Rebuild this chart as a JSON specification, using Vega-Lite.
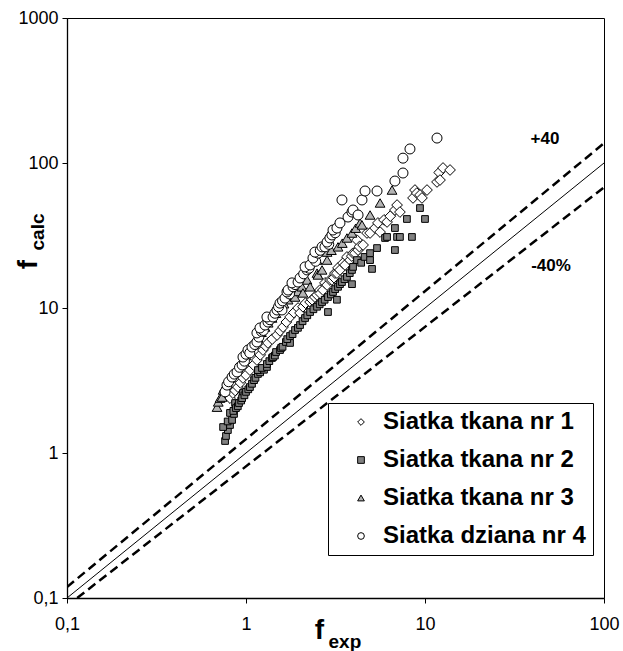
{
  "$schema": "https://vega.github.io/schema/vega-lite/v6.json",
  "width": 537,
  "height": 580,
  "autosize": {"type": "none"},
  "padding": {"left": 67, "top": 18, "right": 19, "bottom": 53},
  "config": {
    "font": "Liberation Sans",
    "view": {"stroke": "#000", "strokeWidth": 1},
    "axis": {
      "grid": false,
      "domainColor": "#000",
      "domainWidth": 1.3,
      "tickColor": "#000",
      "labelColor": "#000",
      "titleColor": "#000",
      "labelFont": "Liberation Sans",
      "titleFont": "Liberation Sans",
      "labelFontSize": 18
    }
  },
  "datasets": {
    "ref": [
      {"line": "1:1", "x": 0.1, "y": 0.1},
      {"line": "1:1", "x": 100, "y": 100},
      {"line": "+40", "x": 0.1, "y": 0.119},
      {"line": "+40", "x": 100, "y": 137},
      {"line": "-40", "x": 0.114, "y": 0.1},
      {"line": "-40", "x": 100, "y": 68}
    ],
    "pts": [
      {"s": "Siatka tkana nr 1", "x": 0.783, "y": 2.59},
      {"s": "Siatka tkana nr 1", "x": 0.80, "y": 2.5},
      {"s": "Siatka tkana nr 1", "x": 0.814, "y": 2.39},
      {"s": "Siatka tkana nr 1", "x": 0.845, "y": 2.59},
      {"s": "Siatka tkana nr 1", "x": 0.87, "y": 2.7},
      {"s": "Siatka tkana nr 1", "x": 0.901, "y": 2.85},
      {"s": "Siatka tkana nr 1", "x": 0.93, "y": 3.05},
      {"s": "Siatka tkana nr 1", "x": 0.962, "y": 3.29},
      {"s": "Siatka tkana nr 1", "x": 1.0, "y": 3.45},
      {"s": "Siatka tkana nr 1", "x": 1.052, "y": 3.73},
      {"s": "Siatka tkana nr 1", "x": 1.1, "y": 4.05},
      {"s": "Siatka tkana nr 1", "x": 1.151, "y": 4.38},
      {"s": "Siatka tkana nr 1", "x": 1.2, "y": 4.75},
      {"s": "Siatka tkana nr 1", "x": 1.244, "y": 5.13},
      {"s": "Siatka tkana nr 1", "x": 1.29, "y": 5.45},
      {"s": "Siatka tkana nr 1", "x": 1.327, "y": 5.74},
      {"s": "Siatka tkana nr 1", "x": 1.4, "y": 6.1},
      {"s": "Siatka tkana nr 1", "x": 1.49, "y": 6.51},
      {"s": "Siatka tkana nr 1", "x": 1.55, "y": 6.95},
      {"s": "Siatka tkana nr 1", "x": 1.61, "y": 7.39},
      {"s": "Siatka tkana nr 1", "x": 1.68, "y": 8.0},
      {"s": "Siatka tkana nr 1", "x": 1.762, "y": 8.67},
      {"s": "Siatka tkana nr 1", "x": 1.85, "y": 9.3},
      {"s": "Siatka tkana nr 1", "x": 1.954, "y": 10.0},
      {"s": "Siatka tkana nr 1", "x": 2.004, "y": 9.24},
      {"s": "Siatka tkana nr 1", "x": 2.08, "y": 10.2},
      {"s": "Siatka tkana nr 1", "x": 2.15, "y": 10.8},
      {"s": "Siatka tkana nr 1", "x": 2.28, "y": 11.0},
      {"s": "Siatka tkana nr 1", "x": 2.339, "y": 11.4},
      {"s": "Siatka tkana nr 1", "x": 2.427, "y": 11.9},
      {"s": "Siatka tkana nr 1", "x": 2.494, "y": 12.3},
      {"s": "Siatka tkana nr 1", "x": 2.588, "y": 13.3},
      {"s": "Siatka tkana nr 1", "x": 2.6, "y": 12.6},
      {"s": "Siatka tkana nr 1", "x": 2.692, "y": 13.3},
      {"s": "Siatka tkana nr 1", "x": 2.761, "y": 14.9},
      {"s": "Siatka tkana nr 1", "x": 2.838, "y": 14.4},
      {"s": "Siatka tkana nr 1", "x": 2.944, "y": 15.6},
      {"s": "Siatka tkana nr 1", "x": 3.02, "y": 15.6},
      {"s": "Siatka tkana nr 1", "x": 3.1, "y": 16.2},
      {"s": "Siatka tkana nr 1", "x": 3.141, "y": 17.4},
      {"s": "Siatka tkana nr 1", "x": 3.221, "y": 17.4},
      {"s": "Siatka tkana nr 1", "x": 3.266, "y": 18.9},
      {"s": "Siatka tkana nr 1", "x": 3.35, "y": 18.3},
      {"s": "Siatka tkana nr 1", "x": 3.483, "y": 20.4},
      {"s": "Siatka tkana nr 1", "x": 3.573, "y": 19.8},
      {"s": "Siatka tkana nr 1", "x": 3.664, "y": 22.5},
      {"s": "Siatka tkana nr 1", "x": 3.811, "y": 21.4},
      {"s": "Siatka tkana nr 1", "x": 3.9, "y": 22.8},
      {"s": "Siatka tkana nr 1", "x": 3.963, "y": 23.9},
      {"s": "Siatka tkana nr 1", "x": 4.064, "y": 23.9},
      {"s": "Siatka tkana nr 1", "x": 4.169, "y": 29.4},
      {"s": "Siatka tkana nr 1", "x": 4.227, "y": 25.1},
      {"s": "Siatka tkana nr 1", "x": 4.3, "y": 26.5},
      {"s": "Siatka tkana nr 1", "x": 4.508, "y": 27.2},
      {"s": "Siatka tkana nr 1", "x": 4.742, "y": 32.9},
      {"s": "Siatka tkana nr 1", "x": 4.932, "y": 32.9},
      {"s": "Siatka tkana nr 1", "x": 5.26, "y": 35.6},
      {"s": "Siatka tkana nr 1", "x": 5.458, "y": 38.6},
      {"s": "Siatka tkana nr 1", "x": 5.611, "y": 33.4},
      {"s": "Siatka tkana nr 1", "x": 5.9, "y": 40.5},
      {"s": "Siatka tkana nr 1", "x": 6.138, "y": 39.2},
      {"s": "Siatka tkana nr 1", "x": 6.4, "y": 43.0},
      {"s": "Siatka tkana nr 1", "x": 6.792, "y": 47.4},
      {"s": "Siatka tkana nr 1", "x": 6.982, "y": 51.3},
      {"s": "Siatka tkana nr 1", "x": 7.244, "y": 45.9},
      {"s": "Siatka tkana nr 1", "x": 8.57, "y": 57.4},
      {"s": "Siatka tkana nr 1", "x": 8.79, "y": 65.1},
      {"s": "Siatka tkana nr 1", "x": 9.0, "y": 62.0},
      {"s": "Siatka tkana nr 1", "x": 9.376, "y": 60.2},
      {"s": "Siatka tkana nr 1", "x": 9.616, "y": 57.4},
      {"s": "Siatka tkana nr 1", "x": 10.26, "y": 65.1},
      {"s": "Siatka tkana nr 1", "x": 11.67, "y": 74.0},
      {"s": "Siatka tkana nr 1", "x": 12.0, "y": 86.0},
      {"s": "Siatka tkana nr 1", "x": 12.13, "y": 76.3},
      {"s": "Siatka tkana nr 1", "x": 12.61, "y": 92.4},
      {"s": "Siatka tkana nr 1", "x": 13.8, "y": 89.5},
      {"s": "Siatka tkana nr 2", "x": 0.764, "y": 1.21},
      {"s": "Siatka tkana nr 2", "x": 0.773, "y": 1.31},
      {"s": "Siatka tkana nr 2", "x": 0.792, "y": 1.44},
      {"s": "Siatka tkana nr 2", "x": 0.745, "y": 1.51},
      {"s": "Siatka tkana nr 2", "x": 0.814, "y": 1.56},
      {"s": "Siatka tkana nr 2", "x": 0.79, "y": 1.65},
      {"s": "Siatka tkana nr 2", "x": 0.836, "y": 1.69},
      {"s": "Siatka tkana nr 2", "x": 0.814, "y": 1.89},
      {"s": "Siatka tkana nr 2", "x": 0.857, "y": 1.86},
      {"s": "Siatka tkana nr 2", "x": 0.85, "y": 1.95},
      {"s": "Siatka tkana nr 2", "x": 0.869, "y": 2.21},
      {"s": "Siatka tkana nr 2", "x": 0.879, "y": 2.04},
      {"s": "Siatka tkana nr 2", "x": 0.9, "y": 2.1},
      {"s": "Siatka tkana nr 2", "x": 0.914, "y": 2.21},
      {"s": "Siatka tkana nr 2", "x": 0.94, "y": 2.3},
      {"s": "Siatka tkana nr 2", "x": 0.962, "y": 2.59},
      {"s": "Siatka tkana nr 2", "x": 0.951, "y": 2.39},
      {"s": "Siatka tkana nr 2", "x": 0.98, "y": 2.5},
      {"s": "Siatka tkana nr 2", "x": 1.0, "y": 2.64},
      {"s": "Siatka tkana nr 2", "x": 1.03, "y": 2.75},
      {"s": "Siatka tkana nr 2", "x": 1.052, "y": 2.85},
      {"s": "Siatka tkana nr 2", "x": 1.08, "y": 3.0},
      {"s": "Siatka tkana nr 2", "x": 1.109, "y": 3.18},
      {"s": "Siatka tkana nr 2", "x": 1.13, "y": 3.3},
      {"s": "Siatka tkana nr 2", "x": 1.166, "y": 3.51},
      {"s": "Siatka tkana nr 2", "x": 1.2, "y": 3.6},
      {"s": "Siatka tkana nr 2", "x": 1.166, "y": 3.73},
      {"s": "Siatka tkana nr 2", "x": 1.26, "y": 3.75},
      {"s": "Siatka tkana nr 2", "x": 1.228, "y": 3.86},
      {"s": "Siatka tkana nr 2", "x": 1.309, "y": 3.92},
      {"s": "Siatka tkana nr 2", "x": 1.309, "y": 4.11},
      {"s": "Siatka tkana nr 2", "x": 1.35, "y": 4.3},
      {"s": "Siatka tkana nr 2", "x": 1.397, "y": 4.52},
      {"s": "Siatka tkana nr 2", "x": 1.416, "y": 4.59},
      {"s": "Siatka tkana nr 2", "x": 1.45, "y": 4.7},
      {"s": "Siatka tkana nr 2", "x": 1.472, "y": 4.97},
      {"s": "Siatka tkana nr 2", "x": 1.549, "y": 5.13},
      {"s": "Siatka tkana nr 2", "x": 1.57, "y": 5.30},
      {"s": "Siatka tkana nr 2", "x": 1.6, "y": 5.4},
      {"s": "Siatka tkana nr 2", "x": 1.671, "y": 5.83},
      {"s": "Siatka tkana nr 2", "x": 1.762, "y": 5.74},
      {"s": "Siatka tkana nr 2", "x": 1.7, "y": 6.1},
      {"s": "Siatka tkana nr 2", "x": 1.762, "y": 6.41},
      {"s": "Siatka tkana nr 2", "x": 1.82, "y": 6.6},
      {"s": "Siatka tkana nr 2", "x": 1.879, "y": 7.05},
      {"s": "Siatka tkana nr 2", "x": 1.95, "y": 7.3},
      {"s": "Siatka tkana nr 2", "x": 2.004, "y": 7.63},
      {"s": "Siatka tkana nr 2", "x": 2.07, "y": 8.1},
      {"s": "Siatka tkana nr 2", "x": 2.138, "y": 8.53},
      {"s": "Siatka tkana nr 2", "x": 2.2, "y": 8.9},
      {"s": "Siatka tkana nr 2", "x": 2.28, "y": 9.38},
      {"s": "Siatka tkana nr 2", "x": 2.38, "y": 9.8},
      {"s": "Siatka tkana nr 2", "x": 2.494, "y": 10.2},
      {"s": "Siatka tkana nr 2", "x": 2.58, "y": 10.6},
      {"s": "Siatka tkana nr 2", "x": 2.66, "y": 11.0},
      {"s": "Siatka tkana nr 2", "x": 2.75, "y": 11.4},
      {"s": "Siatka tkana nr 2", "x": 2.871, "y": 11.9},
      {"s": "Siatka tkana nr 2", "x": 2.871, "y": 9.38},
      {"s": "Siatka tkana nr 2", "x": 2.98, "y": 12.4},
      {"s": "Siatka tkana nr 2", "x": 3.062, "y": 12.9},
      {"s": "Siatka tkana nr 2", "x": 3.15, "y": 13.5},
      {"s": "Siatka tkana nr 2", "x": 3.221, "y": 11.4},
      {"s": "Siatka tkana nr 2", "x": 3.266, "y": 14.0},
      {"s": "Siatka tkana nr 2", "x": 3.35, "y": 14.6},
      {"s": "Siatka tkana nr 2", "x": 3.436, "y": 15.1},
      {"s": "Siatka tkana nr 2", "x": 3.55, "y": 15.8},
      {"s": "Siatka tkana nr 2", "x": 3.664, "y": 16.4},
      {"s": "Siatka tkana nr 2", "x": 3.8, "y": 17.4},
      {"s": "Siatka tkana nr 2", "x": 3.909, "y": 18.3},
      {"s": "Siatka tkana nr 2", "x": 3.909, "y": 14.6},
      {"s": "Siatka tkana nr 2", "x": 3.963, "y": 19.2},
      {"s": "Siatka tkana nr 2", "x": 4.169, "y": 21.4},
      {"s": "Siatka tkana nr 2", "x": 4.4, "y": 20.5},
      {"s": "Siatka tkana nr 2", "x": 4.6, "y": 22.5},
      {"s": "Siatka tkana nr 2", "x": 4.932, "y": 23.9},
      {"s": "Siatka tkana nr 2", "x": 4.932, "y": 21.4},
      {"s": "Siatka tkana nr 2", "x": 5.058, "y": 18.6},
      {"s": "Siatka tkana nr 2", "x": 5.395, "y": 25.9},
      {"s": "Siatka tkana nr 2", "x": 5.984, "y": 30.4},
      {"s": "Siatka tkana nr 2", "x": 6.138, "y": 30.9},
      {"s": "Siatka tkana nr 2", "x": 6.792, "y": 25.1},
      {"s": "Siatka tkana nr 2", "x": 6.792, "y": 35.6},
      {"s": "Siatka tkana nr 2", "x": 6.982, "y": 30.9},
      {"s": "Siatka tkana nr 2", "x": 7.244, "y": 30.9},
      {"s": "Siatka tkana nr 2", "x": 8.453, "y": 30.9},
      {"s": "Siatka tkana nr 2", "x": 7.925, "y": 41.1},
      {"s": "Siatka tkana nr 2", "x": 10.0, "y": 41.1},
      {"s": "Siatka tkana nr 2", "x": 9.376, "y": 48.9},
      {"s": "Siatka tkana nr 3", "x": 0.689, "y": 2.07},
      {"s": "Siatka tkana nr 3", "x": 0.70, "y": 2.25},
      {"s": "Siatka tkana nr 3", "x": 0.716, "y": 2.39},
      {"s": "Siatka tkana nr 3", "x": 0.735, "y": 2.43},
      {"s": "Siatka tkana nr 3", "x": 0.745, "y": 2.72},
      {"s": "Siatka tkana nr 3", "x": 0.76, "y": 2.85},
      {"s": "Siatka tkana nr 3", "x": 0.783, "y": 3.04},
      {"s": "Siatka tkana nr 3", "x": 0.82, "y": 3.3},
      {"s": "Siatka tkana nr 3", "x": 0.869, "y": 3.62},
      {"s": "Siatka tkana nr 3", "x": 0.9, "y": 3.9},
      {"s": "Siatka tkana nr 3", "x": 0.951, "y": 4.24},
      {"s": "Siatka tkana nr 3", "x": 1.0, "y": 4.7},
      {"s": "Siatka tkana nr 3", "x": 1.052, "y": 5.13},
      {"s": "Siatka tkana nr 3", "x": 1.1, "y": 5.6},
      {"s": "Siatka tkana nr 3", "x": 1.166, "y": 6.21},
      {"s": "Siatka tkana nr 3", "x": 1.22, "y": 6.8},
      {"s": "Siatka tkana nr 3", "x": 1.277, "y": 7.39},
      {"s": "Siatka tkana nr 3", "x": 1.33, "y": 7.9},
      {"s": "Siatka tkana nr 3", "x": 1.397, "y": 8.53},
      {"s": "Siatka tkana nr 3", "x": 1.47, "y": 9.2},
      {"s": "Siatka tkana nr 3", "x": 1.549, "y": 10.0},
      {"s": "Siatka tkana nr 3", "x": 1.63, "y": 10.7},
      {"s": "Siatka tkana nr 3", "x": 1.718, "y": 11.4},
      {"s": "Siatka tkana nr 3", "x": 1.879, "y": 11.9},
      {"s": "Siatka tkana nr 3", "x": 1.95, "y": 13.0},
      {"s": "Siatka tkana nr 3", "x": 2.055, "y": 14.0},
      {"s": "Siatka tkana nr 3", "x": 2.08, "y": 12.7},
      {"s": "Siatka tkana nr 3", "x": 2.193, "y": 15.6},
      {"s": "Siatka tkana nr 3", "x": 2.28, "y": 14.0},
      {"s": "Siatka tkana nr 3", "x": 2.494, "y": 17.4},
      {"s": "Siatka tkana nr 3", "x": 2.494, "y": 21.4},
      {"s": "Siatka tkana nr 3", "x": 2.523, "y": 16.9},
      {"s": "Siatka tkana nr 3", "x": 2.66, "y": 18.3},
      {"s": "Siatka tkana nr 3", "x": 2.838, "y": 24.3},
      {"s": "Siatka tkana nr 3", "x": 2.838, "y": 21.4},
      {"s": "Siatka tkana nr 3", "x": 3.0, "y": 25.0},
      {"s": "Siatka tkana nr 3", "x": 3.266, "y": 26.4},
      {"s": "Siatka tkana nr 3", "x": 3.45, "y": 28.0},
      {"s": "Siatka tkana nr 3", "x": 3.664, "y": 30.4},
      {"s": "Siatka tkana nr 3", "x": 3.909, "y": 32.9},
      {"s": "Siatka tkana nr 3", "x": 4.1, "y": 35.5},
      {"s": "Siatka tkana nr 3", "x": 4.335, "y": 38.6},
      {"s": "Siatka tkana nr 3", "x": 4.446, "y": 37.4},
      {"s": "Siatka tkana nr 3", "x": 4.932, "y": 43.8},
      {"s": "Siatka tkana nr 3", "x": 5.611, "y": 53.0},
      {"s": "Siatka tkana nr 3", "x": 6.546, "y": 65.1},
      {"s": "Siatka dziana nr 4", "x": 0.764, "y": 2.64},
      {"s": "Siatka dziana nr 4", "x": 0.783, "y": 2.94},
      {"s": "Siatka dziana nr 4", "x": 0.80, "y": 3.1},
      {"s": "Siatka dziana nr 4", "x": 0.836, "y": 3.34},
      {"s": "Siatka dziana nr 4", "x": 0.86, "y": 3.5},
      {"s": "Siatka dziana nr 4", "x": 0.891, "y": 3.62},
      {"s": "Siatka dziana nr 4", "x": 0.92, "y": 3.9},
      {"s": "Siatka dziana nr 4", "x": 0.951, "y": 4.05},
      {"s": "Siatka dziana nr 4", "x": 0.98, "y": 4.3},
      {"s": "Siatka dziana nr 4", "x": 0.962, "y": 4.59},
      {"s": "Siatka dziana nr 4", "x": 1.0, "y": 4.8},
      {"s": "Siatka dziana nr 4", "x": 1.026, "y": 5.13},
      {"s": "Siatka dziana nr 4", "x": 1.05, "y": 4.9},
      {"s": "Siatka dziana nr 4", "x": 1.08, "y": 5.38},
      {"s": "Siatka dziana nr 4", "x": 1.12, "y": 5.6},
      {"s": "Siatka dziana nr 4", "x": 1.151, "y": 5.83},
      {"s": "Siatka dziana nr 4", "x": 1.18, "y": 6.3},
      {"s": "Siatka dziana nr 4", "x": 1.151, "y": 6.73},
      {"s": "Siatka dziana nr 4", "x": 1.22, "y": 6.9},
      {"s": "Siatka dziana nr 4", "x": 1.25, "y": 7.0},
      {"s": "Siatka dziana nr 4", "x": 1.197, "y": 7.28},
      {"s": "Siatka dziana nr 4", "x": 1.277, "y": 7.63},
      {"s": "Siatka dziana nr 4", "x": 1.327, "y": 8.00},
      {"s": "Siatka dziana nr 4", "x": 1.36, "y": 8.3},
      {"s": "Siatka dziana nr 4", "x": 1.309, "y": 8.67},
      {"s": "Siatka dziana nr 4", "x": 1.416, "y": 8.67},
      {"s": "Siatka dziana nr 4", "x": 1.45, "y": 9.2},
      {"s": "Siatka dziana nr 4", "x": 1.49, "y": 9.69},
      {"s": "Siatka dziana nr 4", "x": 1.589, "y": 9.69},
      {"s": "Siatka dziana nr 4", "x": 1.52, "y": 10.2},
      {"s": "Siatka dziana nr 4", "x": 1.549, "y": 10.8},
      {"s": "Siatka dziana nr 4", "x": 1.60, "y": 11.2},
      {"s": "Siatka dziana nr 4", "x": 1.652, "y": 11.7},
      {"s": "Siatka dziana nr 4", "x": 1.75, "y": 12.5},
      {"s": "Siatka dziana nr 4", "x": 1.694, "y": 12.9},
      {"s": "Siatka dziana nr 4", "x": 1.718, "y": 13.3},
      {"s": "Siatka dziana nr 4", "x": 1.832, "y": 14.0},
      {"s": "Siatka dziana nr 4", "x": 1.88, "y": 14.5},
      {"s": "Siatka dziana nr 4", "x": 1.807, "y": 14.9},
      {"s": "Siatka dziana nr 4", "x": 1.954, "y": 15.1},
      {"s": "Siatka dziana nr 4", "x": 2.004, "y": 16.1},
      {"s": "Siatka dziana nr 4", "x": 2.1, "y": 17.2},
      {"s": "Siatka dziana nr 4", "x": 2.193, "y": 18.3},
      {"s": "Siatka dziana nr 4", "x": 2.25, "y": 18.8},
      {"s": "Siatka dziana nr 4", "x": 2.138, "y": 19.2},
      {"s": "Siatka dziana nr 4", "x": 2.28, "y": 19.8},
      {"s": "Siatka dziana nr 4", "x": 2.45, "y": 21.0},
      {"s": "Siatka dziana nr 4", "x": 2.366, "y": 22.1},
      {"s": "Siatka dziana nr 4", "x": 2.523, "y": 23.9},
      {"s": "Siatka dziana nr 4", "x": 2.427, "y": 24.3},
      {"s": "Siatka dziana nr 4", "x": 2.6, "y": 25.0},
      {"s": "Siatka dziana nr 4", "x": 2.66, "y": 26.4},
      {"s": "Siatka dziana nr 4", "x": 2.761, "y": 26.4},
      {"s": "Siatka dziana nr 4", "x": 2.9, "y": 27.5},
      {"s": "Siatka dziana nr 4", "x": 2.838, "y": 28.5},
      {"s": "Siatka dziana nr 4", "x": 2.944, "y": 30.4},
      {"s": "Siatka dziana nr 4", "x": 3.02, "y": 31.9},
      {"s": "Siatka dziana nr 4", "x": 3.15, "y": 33.0},
      {"s": "Siatka dziana nr 4", "x": 3.062, "y": 34.5},
      {"s": "Siatka dziana nr 4", "x": 3.221, "y": 35.6},
      {"s": "Siatka dziana nr 4", "x": 3.35, "y": 38.6},
      {"s": "Siatka dziana nr 4", "x": 3.715, "y": 42.4},
      {"s": "Siatka dziana nr 4", "x": 3.909, "y": 45.9},
      {"s": "Siatka dziana nr 4", "x": 3.963, "y": 47.4},
      {"s": "Siatka dziana nr 4", "x": 4.227, "y": 43.8},
      {"s": "Siatka dziana nr 4", "x": 3.436, "y": 55.6},
      {"s": "Siatka dziana nr 4", "x": 4.446, "y": 55.6},
      {"s": "Siatka dziana nr 4", "x": 4.624, "y": 64.1},
      {"s": "Siatka dziana nr 4", "x": 5.395, "y": 64.1},
      {"s": "Siatka dziana nr 4", "x": 6.792, "y": 75.1},
      {"s": "Siatka dziana nr 4", "x": 7.534, "y": 85.3},
      {"s": "Siatka dziana nr 4", "x": 7.534, "y": 108},
      {"s": "Siatka dziana nr 4", "x": 8.241, "y": 125},
      {"s": "Siatka dziana nr 4", "x": 11.67, "y": 148.6}
    ],
    "notes": [
      {"t": "+40", "x": 46.8, "y": 146.6},
      {"t": "-40%", "x": 50.6, "y": 19.5}
    ]
  },
  "resolve": {"axis": {"x": "independent", "y": "independent"}},
  "layer": [
    {
      "data": {"name": "ref"},
      "transform": [{"filter": "datum.line === '1:1'"}],
      "mark": {"type": "line", "color": "#000", "strokeWidth": 1, "clip": true},
      "encoding": {
        "x": {"field": "x", "type": "quantitative", "scale": {"type": "log", "domain": [0.1, 100], "nice": false}, "axis": null},
        "y": {"field": "y", "type": "quantitative", "scale": {"type": "log", "domain": [0.1, 1000], "nice": false}, "axis": null}
      }
    },
    {
      "data": {"name": "ref"},
      "transform": [{"filter": "datum.line !== '1:1'"}],
      "mark": {"type": "line", "color": "#000", "strokeWidth": 2.5, "strokeDash": [9, 5], "clip": true},
      "encoding": {
        "x": {"field": "x", "type": "quantitative", "scale": {"type": "log", "domain": [0.1, 100], "nice": false}, "axis": null},
        "y": {"field": "y", "type": "quantitative", "scale": {"type": "log", "domain": [0.1, 1000], "nice": false}, "axis": null},
        "detail": {"field": "line", "type": "nominal"}
      }
    },
    {
      "data": {"name": "pts"},
      "transform": [{"filter": "datum.s === 'Siatka tkana nr 1'"}],
      "mark": {"type": "point", "filled": true, "stroke": "#000", "strokeWidth": 1, "opacity": 1, "size": 115},
      "encoding": {
        "x": {"field": "x", "type": "quantitative", "scale": {"type": "log", "domain": [0.1, 100], "nice": false}, "axis": null},
        "y": {"field": "y", "type": "quantitative", "scale": {"type": "log", "domain": [0.1, 1000], "nice": false}, "axis": null},
        "fill": {"field": "s", "type": "nominal"},
        "shape": {"field": "s", "type": "nominal"}
      }
    },
    {
      "data": {"name": "pts"},
      "transform": [{"filter": "datum.s === 'Siatka tkana nr 2'"}],
      "mark": {"type": "point", "filled": true, "stroke": "#000", "strokeWidth": 1, "opacity": 1, "size": 45},
      "encoding": {
        "x": {"field": "x", "type": "quantitative", "scale": {"type": "log", "domain": [0.1, 100], "nice": false}, "axis": null},
        "y": {"field": "y", "type": "quantitative", "scale": {"type": "log", "domain": [0.1, 1000], "nice": false}, "axis": null},
        "fill": {"field": "s", "type": "nominal"},
        "shape": {"field": "s", "type": "nominal"}
      }
    },
    {
      "data": {"name": "pts"},
      "transform": [{"filter": "datum.s === 'Siatka tkana nr 3'"}],
      "mark": {"type": "point", "filled": true, "stroke": "#000", "strokeWidth": 1, "opacity": 1, "size": 95},
      "encoding": {
        "x": {"field": "x", "type": "quantitative", "scale": {"type": "log", "domain": [0.1, 100], "nice": false}, "axis": null},
        "y": {"field": "y", "type": "quantitative", "scale": {"type": "log", "domain": [0.1, 1000], "nice": false}, "axis": null},
        "fill": {"field": "s", "type": "nominal"},
        "shape": {"field": "s", "type": "nominal"}
      }
    },
    {
      "data": {"name": "pts"},
      "transform": [{"filter": "datum.s === 'Siatka dziana nr 4'"}],
      "mark": {"type": "point", "filled": true, "stroke": "#000", "strokeWidth": 1, "opacity": 1, "size": 100},
      "encoding": {
        "x": {
          "field": "x", "type": "quantitative",
          "scale": {"type": "log", "domain": [0.1, 100], "nice": false},
          "axis": {
            "orient": "bottom", "values": [0.1, 1, 10, 100], "format": "~g",
            "labelExpr": "replace(datum.label, '.', ',')",
            "tickSize": 5, "labelPadding": 12, "labelFlush": false,
            "title": "f", "titleFontSize": 28, "titleFontWeight": "bold",
            "titleX": 252, "titleY": 32, "titleAlign": "center", "titleBaseline": "middle"
          }
        },
        "y": {
          "field": "y", "type": "quantitative",
          "scale": {"type": "log", "domain": [0.1, 1000], "nice": false},
          "axis": {
            "orient": "left", "values": [0.1, 1, 10, 100, 1000], "format": "~g",
            "labelExpr": "replace(datum.label, '.', ',')",
            "tickSize": 5, "labelPadding": 4, "labelFlush": false,
            "title": "f", "titleFontSize": 28, "titleFontWeight": "bold", "titleAngle": 270,
            "titleX": -39, "titleY": 246, "titleAlign": "center", "titleBaseline": "middle"
          }
        },
        "fill": {
          "field": "s", "type": "nominal",
          "scale": {
            "domain": ["Siatka tkana nr 1", "Siatka tkana nr 2", "Siatka tkana nr 3", "Siatka dziana nr 4"],
            "range": ["#ffffff", "#808080", "#b4b4b4", "#ffffff"]
          },
          "legend": {
            "orient": "none", "legendX": 261, "legendY": 385, "direction": "vertical", "title": null,
            "labelFontSize": 24, "labelFontWeight": "bold", "labelColor": "#000", "labelLimit": 400,
            "labelExpr": "datum.label + '    '",
            "symbolSize": 45, "symbolStrokeColor": "#000", "symbolStrokeWidth": 1, "symbolOffset": 14,
            "labelOffset": 10, "rowPadding": 14,
            "strokeColor": "#000", "fillColor": "#fff", "padding": 7
          }
        },
        "shape": {
          "field": "s", "type": "nominal",
          "scale": {
            "domain": ["Siatka tkana nr 1", "Siatka tkana nr 2", "Siatka tkana nr 3", "Siatka dziana nr 4"],
            "range": ["diamond", "square", "triangle-up", "circle"]
          },
          "legend": {
            "orient": "none", "legendX": 261, "legendY": 385, "direction": "vertical", "title": null,
            "labelFontSize": 24, "labelFontWeight": "bold", "labelColor": "#000", "labelLimit": 400,
            "labelExpr": "datum.label + '    '",
            "symbolSize": 45, "symbolStrokeColor": "#000", "symbolStrokeWidth": 1, "symbolOffset": 14,
            "labelOffset": 10, "rowPadding": 14,
            "strokeColor": "#000", "fillColor": "#fff", "padding": 7
          }
        }
      }
    },
    {
      "data": {"name": "notes"},
      "mark": {"type": "text", "fontWeight": "bold", "fontSize": 17, "color": "#000"},
      "encoding": {
        "x": {
          "field": "x", "type": "quantitative",
          "scale": {"type": "log", "domain": [0.1, 100], "nice": false},
          "axis": {
            "orient": "bottom", "labels": false, "ticks": false, "domain": false,
            "title": "exp", "titleFontSize": 19, "titleFontWeight": "bold",
            "titleX": 261, "titleY": 43, "titleAlign": "left", "titleBaseline": "middle"
          }
        },
        "y": {
          "field": "y", "type": "quantitative",
          "scale": {"type": "log", "domain": [0.1, 1000], "nice": false},
          "axis": {
            "orient": "left", "labels": false, "ticks": false, "domain": false,
            "title": "calc", "titleFontSize": 19, "titleFontWeight": "bold", "titleAngle": 270,
            "titleX": -30, "titleY": 232, "titleAlign": "left", "titleBaseline": "middle"
          }
        },
        "text": {"field": "t", "type": "nominal"}
      }
    }
  ]
}
